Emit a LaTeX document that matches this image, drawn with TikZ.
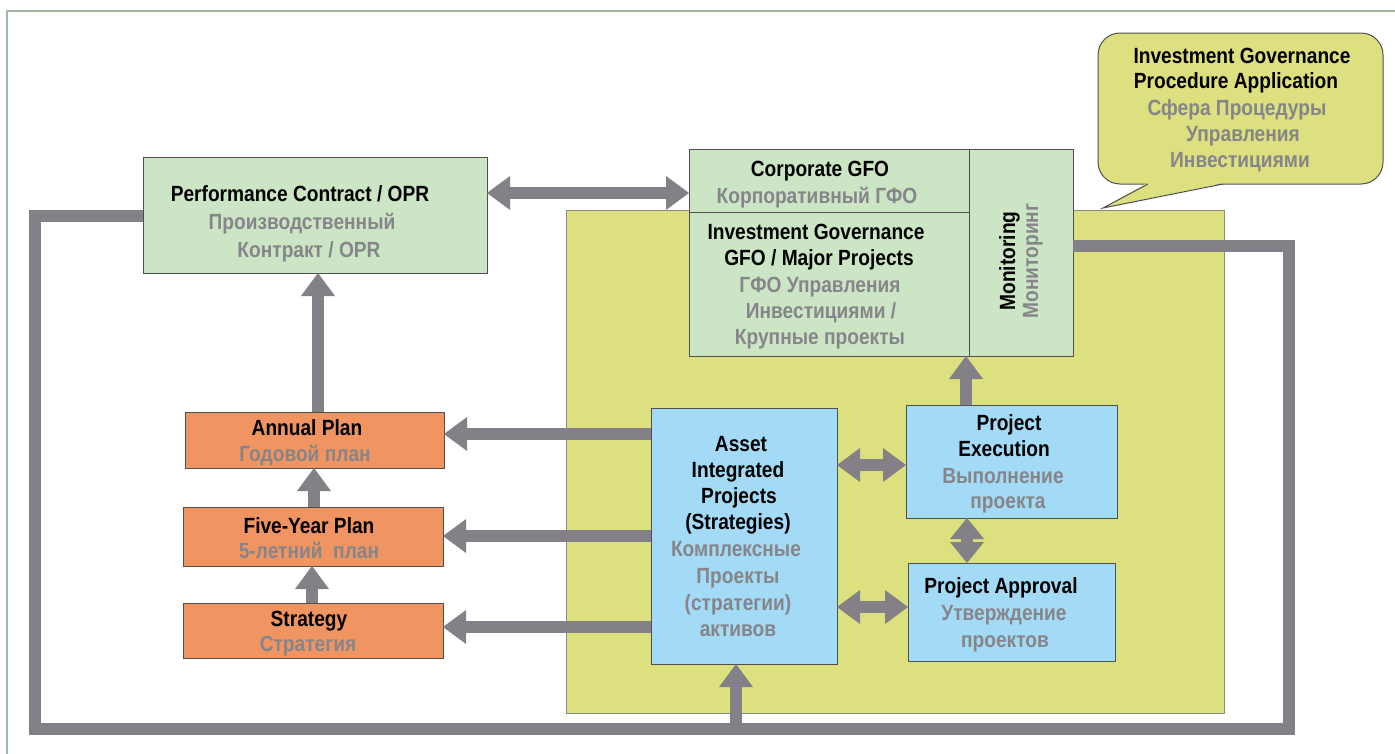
\documentclass[tikz,border=0pt]{standalone}
\usepackage{fontspec}
\usetikzlibrary{arrows.meta}
\newfontfamily\cf{Liberation Sans}[FakeStretch=0.87]
\definecolor{boxgreen}{RGB}{204,229,197}
\definecolor{boxyellow}{RGB}{220,224,126}
\definecolor{boxblue}{RGB}{163,218,245}
\definecolor{boxorange}{RGB}{240,148,98}
\definecolor{agray}{RGB}{131,129,135}
\definecolor{rugray}{RGB}{134,133,138}
\definecolor{framec}{RGB}{159,184,160}
\definecolor{bordc}{RGB}{80,80,80}
\definecolor{ybord}{RGB}{138,138,138}
\tikzset{
  box/.style={draw=bordc, line width=1pt, inner sep=0pt, outer sep=0pt},
  en/.style={font=\cf\bfseries\fontsize{22}{26}\selectfont, text=black, anchor=base, inner sep=0pt},
  ru/.style={font=\cf\bfseries\fontsize{22}{26}\selectfont, text=rugray, anchor=base, inner sep=0pt},
  garrow/.style={draw=agray, line width=12pt, -{Triangle[length=23pt,width=34pt,line width=0pt]}},
  gdouble/.style={draw=agray, line width=12pt, {Triangle[length=23pt,width=34pt,line width=0pt]}-{Triangle[length=23pt,width=34pt,line width=0pt]}},
  gband/.style={draw=agray, line width=12pt, line join=miter}
}
\newcommand\entxt[4]{\node[en] (#1) at (#2,#3) {#4};}
\newcommand\rutxt[4]{\node[ru] (#1) at (#2,#3) {#4};}
\begin{document}
\begin{tikzpicture}[x=1pt,y=-1pt]
\useasboundingbox (0,0) rectangle (1395,753);
% frame
\draw[framec, line width=2pt] (7,760) -- (7,11) -- (1400,11);
% big yellow area
\node[box, draw=ybord, fill=boxyellow, minimum width=658pt, minimum height=503pt] (scope) at (895,461.5) {};
% speech bubble
\node[box, fill=boxyellow, rounded corners=22pt, minimum width=285pt, minimum height=151pt] (bubble) at (1240.5,108.5) {};
\coordinate (tipb) at (1103,208);
\fill[boxyellow] (1147,183) -- (tipb) -- (1224,183) -- cycle;
\draw[bordc, line width=1pt, line join=miter] (1148,184) -- (tipb) -- (1223,184);
% green boxes
\node[box, fill=boxgreen, minimum width=344pt, minimum height=116pt] (perf) at (315,215) {};
\node[box, fill=boxgreen, minimum width=280pt, minimum height=63pt] (corp) at (829,180.5) {};
\node[box, fill=boxgreen, minimum width=280pt, minimum height=144pt] (ig) at (829,284) {};
\node[box, fill=boxgreen, minimum width=104pt, minimum height=207pt] (mon) at (1021,252.5) {};
% blue boxes
\node[box, fill=boxblue, minimum width=186pt, minimum height=256pt] (asset) at (744,536) {};
\node[box, fill=boxblue, minimum width=211pt, minimum height=113pt] (exec) at (1011.5,461.5) {};
\node[box, fill=boxblue, minimum width=207pt, minimum height=98pt] (appr) at (1011.5,612) {};
% orange boxes
\node[box, fill=boxorange, minimum width=259pt, minimum height=56pt] (annual) at (314.5,440) {};
\node[box, fill=boxorange, minimum width=260pt, minimum height=59pt] (five) at (313,536.5) {};
\node[box, fill=boxorange, minimum width=260pt, minimum height=55pt] (strat) at (313,630.5) {};
% helper coordinates
\coordinate (y193) at (0,193);
\coordinate (y216) at (0,216);
\coordinate (y246) at (0,246);
\coordinate (ya) at (0,434);
\coordinate (yb) at (0,536);
\coordinate (yc) at (0,627);
\coordinate (yd) at (0,465);
\coordinate (ye) at (0,607);
\coordinate (x318) at (318,0);
\coordinate (x314) at (314,0);
\coordinate (x312) at (312,0);
\coordinate (x967) at (967,0);
\coordinate (x966) at (966,0);
\coordinate (x736) at (736,0);
\coordinate (lpA) at (35,216);
\coordinate (lpB) at (35,729);
\coordinate (lpC) at (1289,729);
\coordinate (lpD) at (1289,246);
\coordinate (lpE) at (736,734);
% feedback loop
\draw[gband] (perf.west |- y216) -- (lpA) -- (lpB) -- (lpC) -- (lpD) -- (mon.east |- y246);
\draw[garrow] (lpE) -- (asset.south -| x736);
% arrows
\draw[gdouble] (perf.east |- y193) -- (corp.west |- y193);
\draw[garrow] (annual.north -| x318) -- (perf.south -| x318);
\draw[garrow] (five.north -| x314) -- (annual.south -| x314);
\draw[garrow] (strat.north -| x312) -- (five.south -| x312);
\draw[garrow] (asset.west |- ya) -- (annual.east |- ya);
\draw[garrow] (asset.west |- yb) -- (five.east |- yb);
\draw[garrow] (asset.west |- yc) -- (strat.east |- yc);
\draw[gdouble] (asset.east |- yd) -- (exec.west |- yd);
\draw[gdouble] (asset.east |- ye) -- (appr.west |- ye);
\draw[draw=agray, line width=12pt, {Triangle[length=21pt,width=34pt,line width=0pt]}-{Triangle[length=21pt,width=34pt,line width=0pt]}] (exec.south -| x967) -- (appr.north -| x967);
\draw[garrow] (exec.north -| x966) -- (ig.south -| x966);
% texts
\entxt{pe1}{300}{201}{Performance Contract / OPR}
\rutxt{pr1}{302}{229}{Производственный}
\rutxt{pr2}{309}{257}{Контракт / OPR}
\entxt{ce1}{820}{176}{Corporate GFO}
\rutxt{cr1}{817}{203}{Корпоративный ГФО}
\entxt{ie1}{816}{239}{Investment Governance}
\entxt{ie2}{819}{265}{GFO / Major Projects}
\rutxt{ir1}{820}{292}{ГФО Управления}
\rutxt{ir2}{821}{318}{Инвестициями /}
\rutxt{ir3}{820}{344}{Крупные проекты}
\node[en, rotate=90] (me1) at (1015,261) {Monitoring};
\node[ru, rotate=90] (mr1) at (1038,261) {Мониторинг};
\entxt{be1}{1242}{63}{Investment Governance}
\entxt{be2}{1236}{88}{Procedure Application}
\rutxt{br1}{1237}{115}{Сфера Процедуры}
\rutxt{br2}{1243}{141}{Управления}
\rutxt{br3}{1240}{167}{Инвестициями}
\entxt{ae1}{741}{451}{Asset}
\entxt{ae2}{738}{477}{Integrated}
\entxt{ae3}{739}{503}{Projects}
\entxt{ae4}{738}{529}{(Strategies)}
\rutxt{ar1}{736}{556}{Комплексные}
\rutxt{ar2}{738}{583}{Проекты}
\rutxt{ar3}{738}{610}{(стратегии)}
\rutxt{ar4}{738}{636}{активов}
\entxt{xe1}{1009}{430}{Project}
\entxt{xe2}{1004}{456}{Execution}
\rutxt{xr1}{1003}{483}{Выполнение}
\rutxt{xr2}{1008}{508}{проекта}
\entxt{pa1}{1001}{593}{Project Approval}
\rutxt{par1}{1004}{620}{Утверждение}
\rutxt{par2}{1005}{647}{проектов}
\entxt{an1}{307}{435}{Annual Plan}
\rutxt{anr1}{305}{461}{Годовой план}
\entxt{fy1}{309}{533}{Five-Year Plan}
\rutxt{fyr1}{309}{558}{5-летний\ \ план}
\entxt{st1}{309}{626}{Strategy}
\rutxt{str1}{308}{651}{Стратегия}
\end{tikzpicture}
\end{document}
